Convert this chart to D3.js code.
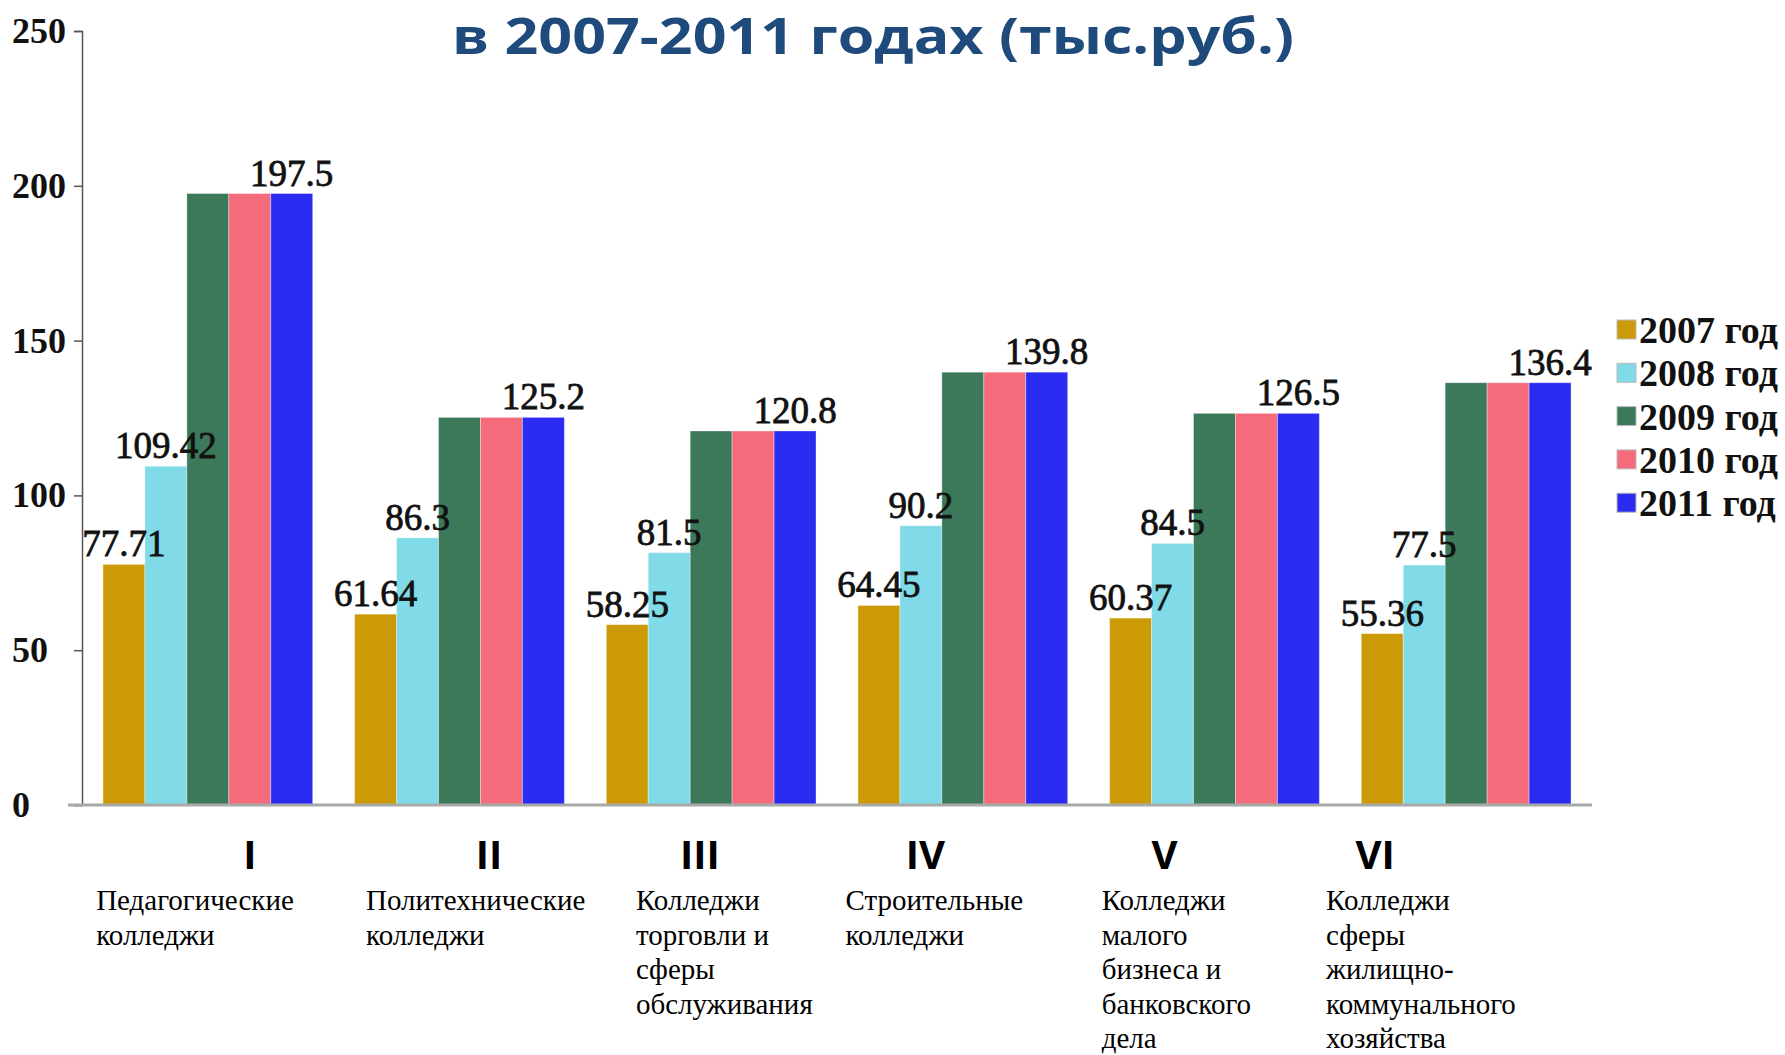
<!DOCTYPE html>
<html>
<head>
<meta charset="utf-8">
<script src="https://cdn.jsdelivr.net/npm/d3@7"></script>
<style>
  html, body { margin: 0; padding: 0; background: #ffffff; }
  svg { display: block; }
</style>
</head>
<body>
<svg id="chart" width="1785" height="1055"></svg>
<script>
// ---- data ----
const romans = ["I", "II", "III", "IV", "V", "VI"];
const descriptions = [
  ["Педагогические", "колледжи"],
  ["Политехнические", "колледжи"],
  ["Колледжи", "торговли и", "сферы", "обслуживания"],
  ["Строительные", "колледжи"],
  ["Колледжи", "малого", "бизнеса и", "банковского", "дела"],
  ["Колледжи", "сферы", "жилищно-", "коммунального", "хозяйства"]
];
const years = ["2007 год", "2008 год", "2009 год", "2010 год", "2011 год"];
const v2007 = [77.71, 61.64, 58.25, 64.45, 60.37, 55.36];
const v2008 = [109.42, 86.3, 81.5, 90.2, 84.5, 77.5];
const v2009 = [197.5, 125.2, 120.8, 139.8, 126.5, 136.4];
const v2010 = [197.5, 125.2, 120.8, 139.8, 126.5, 136.4];
const v2011 = [197.5, 125.2, 120.8, 139.8, 126.5, 136.4];
const yTicks = [0, 50, 100, 150, 200, 250];
const labeledSeries = [0, 1, 4]; // which series carry value labels
const titleText = "в 2007-2011 годах (тыс.руб.)";

(function () {
// ---- layout ----
const series = [v2007, v2008, v2009, v2010, v2011];
const colors = ["#cc9a06", "#80dae8", "#3c785a", "#f46c7c", "#2b2bf2"];
const svg = d3.select("#chart");
const mLeft = 82, mRight = 1592, mTop = 31, mBottom = 805;

const x0 = d3.scaleBand().domain(romans).range([mLeft, mRight])
  .paddingInner(1 / 6).paddingOuter(1 / 12);
const x1 = d3.scaleBand().domain(d3.range(years.length)).range([0, x0.bandwidth()]);
const y = d3.scaleLinear().domain([0, 250]).range([mBottom, mTop]);

// gridlines
const defs = svg.append("defs");
defs.append("filter").attr("id", "soft").append("feGaussianBlur").attr("stdDeviation", 0.8);

svg.append("g").selectAll("line")
  .data(yTicks.filter(d => d > 0))
  .join("line")
  .attr("x1", mLeft).attr("x2", mRight)
  .attr("y1", d => y(d)).attr("y2", d => y(d))
  .attr("stroke", "#9fb0a6").attr("stroke-width", 4)
  .attr("filter", "url(#soft)");

// y axis
const yAxis = d3.axisLeft(y).tickValues(yTicks).tickSize(8).tickFormat("");
const ga = svg.append("g").attr("transform", `translate(${mLeft},0)`).call(yAxis);
ga.select(".domain").attr("stroke", "#555").attr("stroke-width", 1.5);
ga.selectAll(".tick line").attr("stroke", "#555").attr("stroke-width", 1.5);

svg.append("g").selectAll("text")
  .data(yTicks)
  .join("text")
  .attr("x", 12)
  .attr("y", d => y(d) + 12)
  .attr("font-family", "Liberation Serif, Times New Roman, serif")
  .attr("font-weight", "bold")
  .attr("font-size", 36)
  .attr("fill", "#111")
  .text(d => d);

// bars
const groups = svg.append("g").selectAll("g")
  .data(romans)
  .join("g")
  .attr("transform", d => `translate(${x0(d)},0)`);

groups.selectAll("rect")
  .data((d, i) => series.map((s, k) => ({ k, v: s[i] })))
  .join("rect")
  .attr("x", d => x1(d.k))
  .attr("width", x1.bandwidth())
  .attr("y", d => y(d.v))
  .attr("height", d => y(0) - y(d.v))
  .attr("fill", d => colors[d.k])
  .attr("stroke", "rgba(255,255,255,0.35)")
  .attr("stroke-width", 1);

// zero line
svg.append("line")
  .attr("x1", mLeft - 14).attr("x2", mRight)
  .attr("y1", y(0)).attr("y2", y(0))
  .attr("stroke", "#a8aaa8").attr("stroke-width", 3);

// value labels
groups.selectAll("text.val")
  .data((d, i) => labeledSeries.map(k => ({ k, v: series[k][i] })))
  .join("text")
  .attr("class", "val")
  .attr("x", d => x1(d.k) + x1.bandwidth() / 2)
  .attr("y", d => y(d.v) - 8)
  .attr("text-anchor", "middle")
  .attr("font-family", "Liberation Serif, Times New Roman, serif")
  .attr("font-size", 37)
  .attr("fill", "#111")
  .attr("stroke", "#111")
  .attr("stroke-width", 0.8)
  .text(d => d.v);

// category labels (roman numerals + descriptions)
const romanShift = [37, 26, -10, -33, -44, -80].map(d => d * 1.138);
const descShift = [-6, 10, 26, -11, -7, -31].map(d => d * 1.138);

svg.append("g").selectAll("text")
  .data(romans)
  .join("text")
  .attr("x", (d, i) => x0(d) + x0.bandwidth() / 2 + romanShift[i])
  .attr("y", 869)
  .attr("text-anchor", "middle")
  .attr("font-family", "Open Sans, Liberation Sans, Arial, sans-serif")
  .attr("font-weight", "bold")
  .attr("font-size", 40)
  .attr("fill", "#000")
  .text(d => d);

const dg = svg.append("g").selectAll("text")
  .data(descriptions)
  .join("text")
  .attr("x", (d, i) => x0(romans[i]) + descShift[i])
  .attr("y", 910)
  .attr("font-family", "Liberation Serif, Times New Roman, serif")
  .attr("font-size", 29)
  .attr("fill", "#000");
dg.selectAll("tspan")
  .data(d => d)
  .join("tspan")
  .attr("x", function () { return d3.select(this.parentNode).attr("x"); })
  .attr("dy", (d, i) => i === 0 ? 0 : 34.5)
  .text(d => d);

// legend
const lg = svg.append("g").selectAll("g")
  .data(years)
  .join("g")
  .attr("transform", (d, i) => `translate(1617, ${330 + i * 43.3})`);
lg.append("rect")
  .attr("x", 0).attr("y", -10).attr("width", 19).attr("height", 19)
  .attr("fill", (d, i) => colors[i])
  .attr("stroke", "#bbb").attr("stroke-width", 1);
lg.append("text")
  .attr("x", 22).attr("y", 13)
  .attr("font-family", "Liberation Serif, Times New Roman, serif")
  .attr("font-weight", "bold")
  .attr("font-size", 38)
  .attr("fill", "#111")
  .text(d => d);

// title
svg.append("text")
  .attr("x", 873).attr("y", 54)
  .attr("text-anchor", "middle")
  .attr("font-family", "Open Sans, Liberation Sans, Arial, sans-serif")
  .attr("font-weight", "bold")
  .attr("font-size", 50)
  .attr("fill", "#1f4a7c")
  .attr("textLength", 842)
  .attr("lengthAdjust", "spacingAndGlyphs")
  .text(titleText);
})();
</script>
</body>
</html>
